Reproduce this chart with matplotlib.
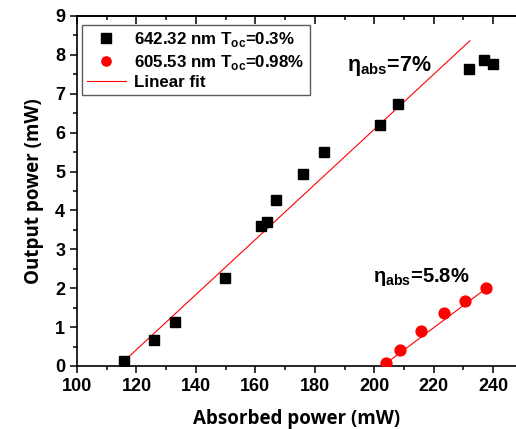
import numpy as np
import matplotlib
matplotlib.use("Agg")
import matplotlib.pyplot as plt

# data
x_642 = [115.9, 125.9, 133.0, 149.9, 161.8, 164.0, 166.9, 176.0, 183.0, 202.0, 208.0, 232.0, 236.9, 240.1]
y_642 = [0.12, 0.68, 1.13, 2.26, 3.60, 3.71, 4.27, 4.94, 5.51, 6.19, 6.75, 7.65, 7.87, 7.77]
x_605 = [204.0, 208.7, 215.9, 223.4, 230.4, 237.6]
y_605 = [0.07, 0.40, 0.90, 1.36, 1.66, 2.01]

# linear fits (slope, intercept, x range)
fit_642 = (0.0708, -8.076, [115.9, 232.2])
fit_605 = (0.0572, -11.60, [203.0, 237.6])

plt.rcParams['font.family'] = ['Liberation Sans', 'DejaVu Sans']
plt.rcParams['font.weight'] = 'bold'
plt.rcParams['mathtext.fontset'] = 'custom'
plt.rcParams['mathtext.rm'] = 'Liberation Sans'
plt.rcParams['mathtext.bf'] = 'Liberation Sans:bold'

fig = plt.figure(figsize=(5.16, 4.29), dpi=100)
ax = fig.add_axes([77/516, 63/429, 439/516, 350/429])

ax.plot(x_642, y_642, 's', color='black', ms=7.8, label=r'642.32 nm T$_\mathregular{oc}$=0.3%', zorder=3)
ax.plot(x_605, y_605, 'o', color='red', ms=7.8, label=r'605.53 nm T$_\mathregular{oc}$=0.98%', zorder=3)

fx = np.array(fit_642[2])
ax.plot(fx, fit_642[0]*fx + fit_642[1], '-', color='red', lw=0.8, label='Linear fit')
fx = np.array(fit_605[2])
ax.plot(fx, fit_605[0]*fx + fit_605[1], '-', color='red', lw=0.8)

ax.text(191.0, 7.59, r'η$_{\mathbf{abs}}$=7%', fontsize=15.5, fontweight='bold')
ax.text(199.6, 2.17, r'η$_{\mathbf{abs}}$=5.8%', fontsize=14.5, fontweight='bold')

ax.set_xlim(100, 247.7)
ax.set_ylim(0, 9)
ax.set_xticks(np.arange(100, 241, 20))
ax.set_xticks(np.arange(110, 247, 20), minor=True)
ax.set_yticks(np.arange(0, 10, 1))
ax.set_yticks(np.arange(0.5, 9, 1), minor=True)
ax.tick_params(which='major', direction='out', length=5, width=1.1, labelsize=13)
ax.tick_params(which='minor', direction='out', length=3, width=1.1)
ax.spines['right'].set_visible(False)
for s in ['left', 'bottom', 'top']:
    ax.spines[s].set_linewidth(1.2)

top = ax.secondary_xaxis('top')
top.set_xticks(np.arange(100, 241, 20))
top.set_xticks(np.arange(110, 247, 20), minor=True)
top.tick_params(which='major', direction='in', length=6, width=1.1, labeltop=False)
top.tick_params(which='minor', direction='in', length=3, width=1.1)
top.spines['top'].set_linewidth(1.2)

ax.set_xlabel('Absorbed power (mW)', fontsize=13.5, fontweight='bold', family='Open Sans', labelpad=10)
ax.set_ylabel('Output power (mW)', fontsize=13.5, fontweight='bold', family='Open Sans', labelpad=8)

leg = ax.legend(loc='upper left', bbox_to_anchor=(0.011, 0.974), borderaxespad=0,
                fancybox=False, edgecolor='#333333', fontsize=12.2, handlelength=2.3,
                labelspacing=0.2, handletextpad=0.5, borderpad=0.3, markerscale=0.85)
leg.get_frame().set_linewidth(1.0)

fig.savefig('out.png', dpi=100)
